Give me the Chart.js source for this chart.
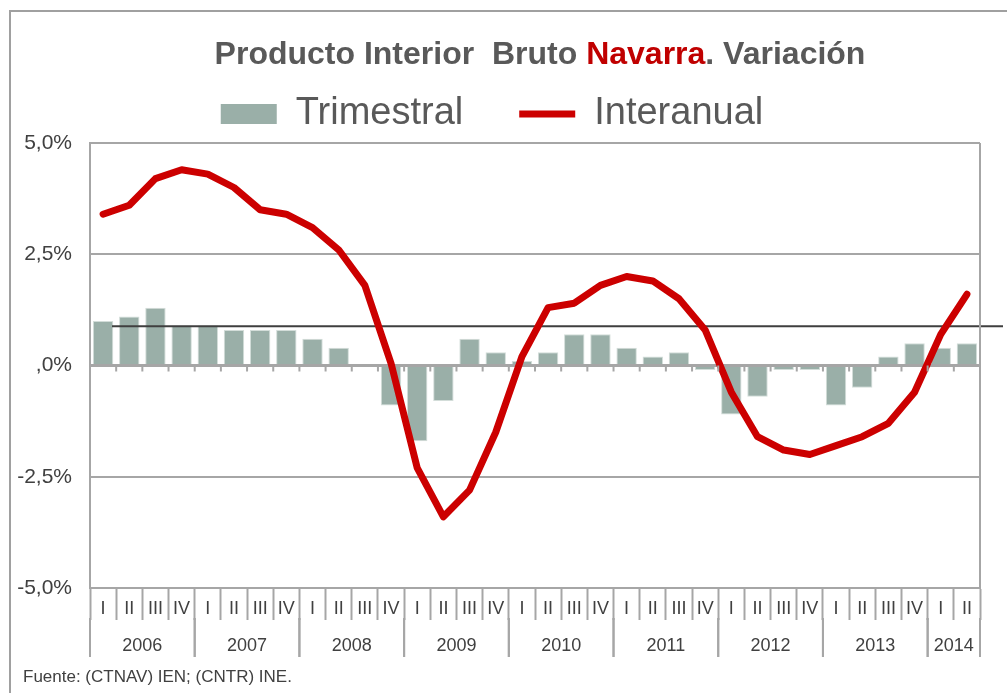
<!DOCTYPE html>
<html>
<head>
<meta charset="utf-8">
<script src="https://cdn.jsdelivr.net/npm/chart.js@4.4.1/dist/chart.umd.min.js"></script>
<style>
  html, body { margin: 0; padding: 0; background: #fff; }
  #wrap { width: 1007px; height: 693px; position: relative; }
</style>
</head>
<body>
<div id="wrap"><canvas id="myChart" width="1007" height="693"></canvas></div>
<script>
    // quarters 2006 I .. 2014 II
    var quarters = ['I','II','III','IV','I','II','III','IV','I','II','III','IV','I','II','III','IV',
                    'I','II','III','IV','I','II','III','IV','I','II','III','IV','I','II','III','IV','I','II'];
    var years = ['2006','2007','2008','2009','2010','2011','2012','2013','2014'];
    var yearQuarters = [4, 4, 4, 4, 4, 4, 4, 4, 2];

    var trimestral = [1.0, 1.1, 1.3, 0.9, 0.9, 0.8, 0.8, 0.8, 0.6, 0.4, 0.0, -0.9,
                      -1.7, -0.8, 0.6, 0.3, 0.1, 0.3, 0.7, 0.7, 0.4, 0.2, 0.3, -0.1,
                      -1.1, -0.7, -0.1, -0.1, -0.9, -0.5, 0.2, 0.5, 0.4, 0.5];
    var interanual = [3.4, 3.6, 4.2, 4.4, 4.3, 4.0, 3.5, 3.4, 3.1, 2.6, 1.8, 0.05,
                      -2.3, -3.4, -2.8, -1.5, 0.2, 1.3, 1.4, 1.8, 2.0, 1.9, 1.5, 0.8,
                      -0.6, -1.6, -1.9, -2.0, -1.8, -1.6, -1.3, -0.6, 0.7, 1.6];
    var mediaLine = 0.88;
    var yTicks = [-5, -2.5, 0, 2.5, 5];

    var gridGray = '#a6a6a6';
    var textGray = '#404040';

    var decor = {
        id: 'decor',
        beforeDraw: function(chart) {
            var ctx = chart.ctx;
            ctx.save();
            ctx.fillStyle = '#fff';
            ctx.fillRect(0, 0, chart.width, chart.height);
            // slide frame
            ctx.strokeStyle = '#a0a0a0';
            ctx.lineWidth = 2;
            ctx.beginPath();
            ctx.moveTo(10, 693);
            ctx.lineTo(10, 11);
            ctx.lineTo(1007, 11);
            ctx.stroke();
            // title with red word
            var parts = [['Producto Interior  Bruto ', '#595959'], ['Navarra', '#c00000'], ['. Variación', '#595959']];
            ctx.font = 'bold 32px "Liberation Sans", Arial, sans-serif';
            ctx.textBaseline = 'middle';
            var total = 0;
            parts.forEach(function(p) { total += ctx.measureText(p[0]).width; });
            var x = 540 - total / 2;
            parts.forEach(function(p) {
                ctx.fillStyle = p[1];
                ctx.textAlign = 'left';
                ctx.fillText(p[0], x, 55);
                x += ctx.measureText(p[0]).width;
            });
            // source
            ctx.font = '17px "Liberation Sans", Arial, sans-serif';
            ctx.fillStyle = textGray;
            ctx.fillText('Fuente: (CTNAV) IEN; (CNTR) INE.', 23, 677);
            ctx.restore();
        },
        afterDatasetDraw: function(chart, args) {
            if (args.index !== 0) return;
            var ctx = chart.ctx, a = chart.chartArea;
            var y = chart.scales.y.getPixelForValue(mediaLine);
            ctx.save();
            ctx.strokeStyle = '#3f3f3f';
            ctx.lineWidth = 2;
            ctx.beginPath();
            ctx.moveTo(a.left + 22, y);
            ctx.lineTo(a.right + 23, y);
            ctx.stroke();
            ctx.restore();
        },
        afterDraw: function(chart) {
            var ctx = chart.ctx, a = chart.chartArea;
            var xs = chart.scales.x, ys = chart.scales.y;
            var step = xs.getPixelForValue(1) - xs.getPixelForValue(0);
            var y0 = ys.getPixelForValue(0);
            ctx.save();
            ctx.strokeStyle = gridGray;
            ctx.lineWidth = 2;
            // right border
            ctx.beginPath();
            ctx.moveTo(a.right, a.top);
            ctx.lineTo(a.right, a.bottom);
            ctx.stroke();
            // little marks under the zero line
            for (var i = 1; i < quarters.length; i++) {
                var bx = xs.getPixelForValue(i) - step / 2;
                ctx.beginPath();
                ctx.moveTo(bx, y0);
                ctx.lineTo(bx, y0 + 6);
                ctx.stroke();
            }
            // years
            ctx.font = '18px "Liberation Sans", Arial, sans-serif';
            ctx.fillStyle = textGray;
            ctx.textAlign = 'center';
            ctx.textBaseline = 'middle';
            var start = 0;
            for (var k = 0; k < years.length; k++) {
                var x0 = xs.getPixelForValue(start) - step / 2;
                var x1 = xs.getPixelForValue(start + yearQuarters[k] - 1) + step / 2;
                ctx.beginPath();
                ctx.moveTo(x0, a.bottom + 30);
                ctx.lineTo(x0, a.bottom + 69);
                ctx.moveTo(x1, a.bottom + 30);
                ctx.lineTo(x1, a.bottom + 69);
                ctx.stroke();
                ctx.fillText(years[k], (x0 + x1) / 2, a.bottom + 58);
                start += yearQuarters[k];
            }
            ctx.restore();
        }
    };

    var legendHeight = {
        id: 'legendHeight',
        beforeInit: function(chart) {
            var fit = chart.legend.fit;
            chart.legend.fit = function() {
                fit.bind(chart.legend)();
                this.height = 104;
            };
        }
    };

    const ctx = document.getElementById('myChart').getContext('2d');
    var myChart = new Chart(ctx, {
        type: 'bar',
        data: {
            labels: quarters,
            datasets: [{
                    type: 'bar',
                    label: 'Trimestral',
                    data: trimestral,
                    backgroundColor: '#9aafa8',
                    borderColor: '#d3ddd9',
                    borderWidth: 1,
                    categoryPercentage: 1,
                    barPercentage: 0.78,
                    order: 2
                },
                {
                    type: 'line',
                    label: 'Interanual',
                    data: interanual,
                    borderColor: '#cc0000',
                    backgroundColor: '#cc0000',
                    borderWidth: 7,
                    pointRadius: 0,
                    borderCapStyle: 'round',
                    borderJoinStyle: 'round',
                    tension: 0,
                    order: 1
                }
            ]
        },
        options: {
            responsive: false,
            animation: false,
            layout: { padding: { left: 4, right: 27, top: 39, bottom: 35 } },
            plugins: {
                title: { display: false },
                tooltip: { enabled: false },
                legend: {
                    display: true,
                    position: 'top',
                    labels: {
                        usePointStyle: true,
                        pointStyleWidth: 56,
                        boxHeight: 20,
                        padding: 56,
                        color: '#595959',
                        font: { family: '"Liberation Sans", Arial, sans-serif', size: 38 },
                        generateLabels: function(chart) {
                            return chart.data.datasets.map(function(ds, i) {
                                var isBar = ds.type === 'bar';
                                return {
                                    text: ds.label,
                                    fillStyle: isBar ? '#9aafa8' : '#cc0000',
                                    strokeStyle: isBar ? '#9aafa8' : '#cc0000',
                                    lineWidth: isBar ? 0 : 7,
                                    pointStyle: isBar ? 'rect' : 'line',
                                    datasetIndex: i,
                                    hidden: false,
                                    fontColor: '#595959'
                                };
                            });
                        }
                    }
                }
            },
            scales: {
                x: {
                    offset: true,
                    grid: {
                        display: true,
                        offset: true,
                        drawOnChartArea: false,
                        tickLength: 32,
                        tickColor: gridGray,
                        tickWidth: 2
                    },
                    border: { display: true, color: gridGray, width: 2 },
                    ticks: {
                        color: textGray,
                        padding: -22,
                        maxRotation: 0,
                        autoSkip: false,
                        font: { family: '"Liberation Sans", Arial, sans-serif', size: 18 }
                    },
                    afterFit: function(s) { s.height = 70; }
                },
                y: {
                    min: -5,
                    max: 5,
                    afterBuildTicks: function(s) {
                        s.ticks = yTicks.map(function(v) { return { value: v }; });
                    },
                    grid: {
                        color: function(c) { return gridGray; },
                        lineWidth: function(c) { return c.tick && c.tick.value === 0 ? 3 : 2; },
                        drawTicks: false
                    },
                    border: { display: true, color: gridGray, width: 2 },
                    ticks: {
                        color: textGray,
                        padding: 18,
                        font: { family: '"Liberation Sans", Arial, sans-serif', size: 21 },
                        callback: function(v) {
                            if (v === 0) return ',0%';
                            return v.toFixed(1).replace('.', ',') + '%';
                        }
                    },
                    afterFit: function(s) { s.width = 86; }
                }
            }
        },
        plugins: [decor, legendHeight]
    });
</script>
</body>
</html>
